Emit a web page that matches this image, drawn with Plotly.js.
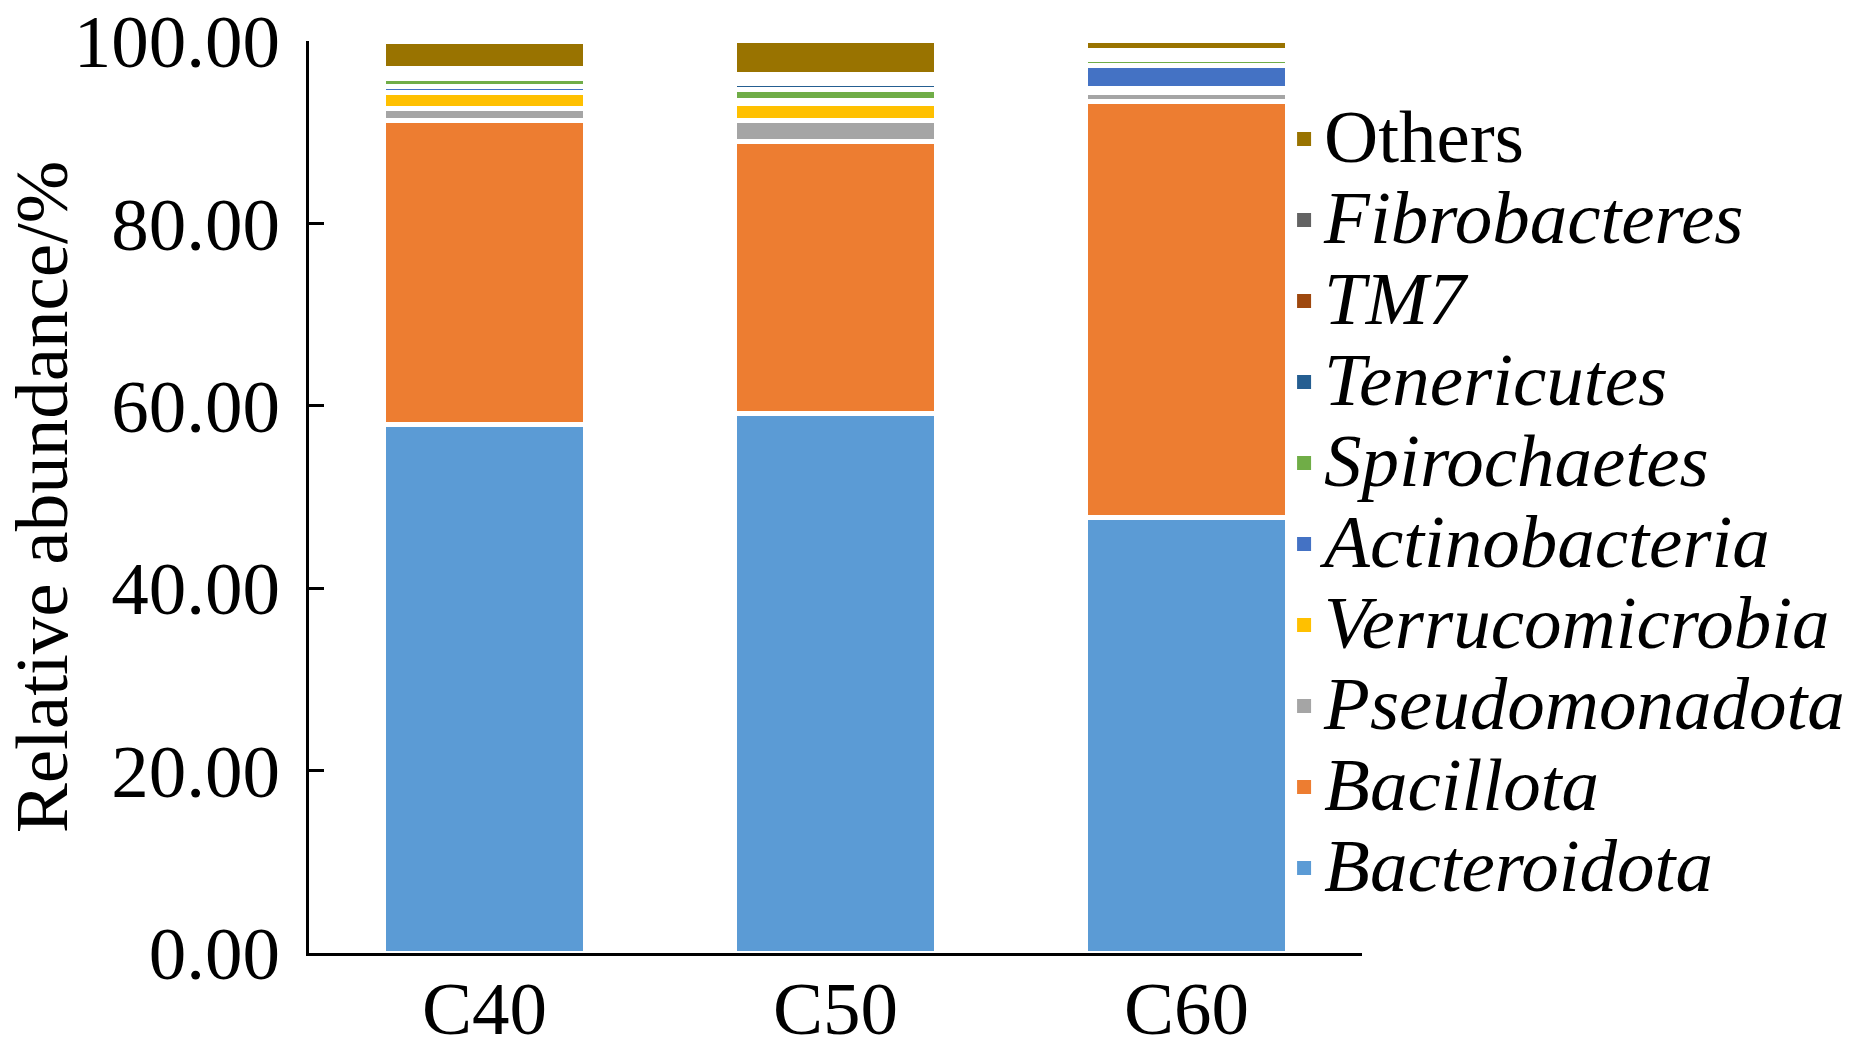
<!DOCTYPE html>
<html>
<head>
<meta charset="utf-8">
<script src="https://cdn.plot.ly/plotly-3.0.1.min.js"></script>
<style>
	body { margin: 0; background: #fff; }
	#plot { width: 1849px; height: 1061px; }
</style>
</head>
<body>
<div id="plot"></div>
<script>
var categories = ['C40', 'C50', 'C60'];

// relative abundance (%) per phylum
var bacteroidota    = [57.95, 59.18, 47.75];
var bacillota       = [33.35, 29.77, 45.61];
var pseudomonadota  = [1.35, 2.37, 0.95];
var verrucomicrobia = [1.65, 1.86, 0.50];
var actinobacteria  = [0.72, 0.33, 2.46];
var spirochaetes    = [0.82, 1.14, 0.66];
var tenericutes     = [0.60, 0.64, 0.33];
var tm7             = [0.30, 0.62, 0.33];
var fibrobacteres   = [0.30, 0.38, 0.34];
var others          = [2.90, 3.73, 1.10];

var yTicks = [0, 20, 40, 60, 80, 100];

var series = [
	{name: 'Bacteroidota', italic: true, y: bacteroidota, color: '#5B9BD5'},
	{name: 'Bacillota', italic: true, y: bacillota, color: '#ED7D31'},
	{name: 'Pseudomonadota', italic: true, y: pseudomonadota, color: '#A5A5A5'},
	{name: 'Verrucomicrobia', italic: true, y: verrucomicrobia, color: '#FFC000'},
	{name: 'Actinobacteria', italic: true, y: actinobacteria, color: '#4472C4'},
	{name: 'Spirochaetes', italic: true, y: spirochaetes, color: '#70AD47'},
	{name: 'Tenericutes', italic: true, y: tenericutes, color: '#255E91'},
	{name: 'TM7', italic: true, y: tm7, color: '#9E480E'},
	{name: 'Fibrobacteres', italic: true, y: fibrobacteres, color: '#636363'},
	{name: 'Others', italic: false, y: others, color: '#997300'}
];

var font = 'Times New Roman, Liberation Serif, serif';
var data = [];

// legend rows are spaced from legend.font.size, the glyphs are drawn bigger
function legendLabel(s){
	var txt = s.italic ? '<i>' + s.name + '</i>' : s.name;
	return '<span style="font-size:75px">' + txt + '</span>';
}

for(var i = 0; i < series.length; i++){
	data.push({
		type: 'bar',
		x: categories,
		y: series[i].y,
		name: series[i].name,
		showlegend: false,
		marker: {color: series[i].color, line: {color: '#ffffff', width: 5}}
	});
}

// legend-only entries so the swatches are solid squares
for(var j = 0; j < series.length; j++){
	data.push({
		type: 'scatter',
		mode: 'markers',
		x: [null],
		y: [null],
		name: legendLabel(series[j]),
		marker: {symbol: 'square', size: 14, color: series[j].color}
	});
}

var layout = {
	width: 1849,
	height: 1061,
	margin: {l: 309, r: 487, t: 41, b: 108, autoexpand: false},
	paper_bgcolor: '#ffffff',
	plot_bgcolor: '#ffffff',
	barmode: 'stack',
	bargap: 0.427,
	showlegend: true,
	font: {family: font, color: '#000000'},
	legend: {
		x: 0.926,
		xanchor: 'left',
		y: 0.493,
		yanchor: 'middle',
		traceorder: 'reversed',
		tracegroupgap: 0,
		bgcolor: 'rgba(0,0,0,0)',
		font: {family: font, size: 60, color: '#000000'}
	},
	xaxis: {
		type: 'category',
		categoryarray: categories,
		range: [-0.5, 2.5],
		showline: true,
		linecolor: '#000000',
		linewidth: 3,
		ticks: '',
		showgrid: false,
		zeroline: false,
		tickfont: {family: font, size: 75, color: '#000000'},
		ticklabelstandoff: -12
	},
	yaxis: {
		range: [0, 100],
		tickvals: yTicks,
		tickformat: '.2f',
		showline: true,
		linecolor: '#000000',
		linewidth: 3,
		ticks: 'inside',
		ticklen: 15,
		tickwidth: 3,
		tickcolor: '#000000',
		showgrid: false,
		zeroline: false,
		tickfont: {family: font, size: 75, color: '#000000'},
		ticklabelstandoff: 11,
		title: {
			text: 'Relative abundance/%',
			font: {family: font, size: 75, color: '#000000'},
			standoff: 21
		}
	}
};

Plotly.newPlot('plot', data, layout, {displayModeBar: false, staticPlot: true});
</script>
</body>
</html>
